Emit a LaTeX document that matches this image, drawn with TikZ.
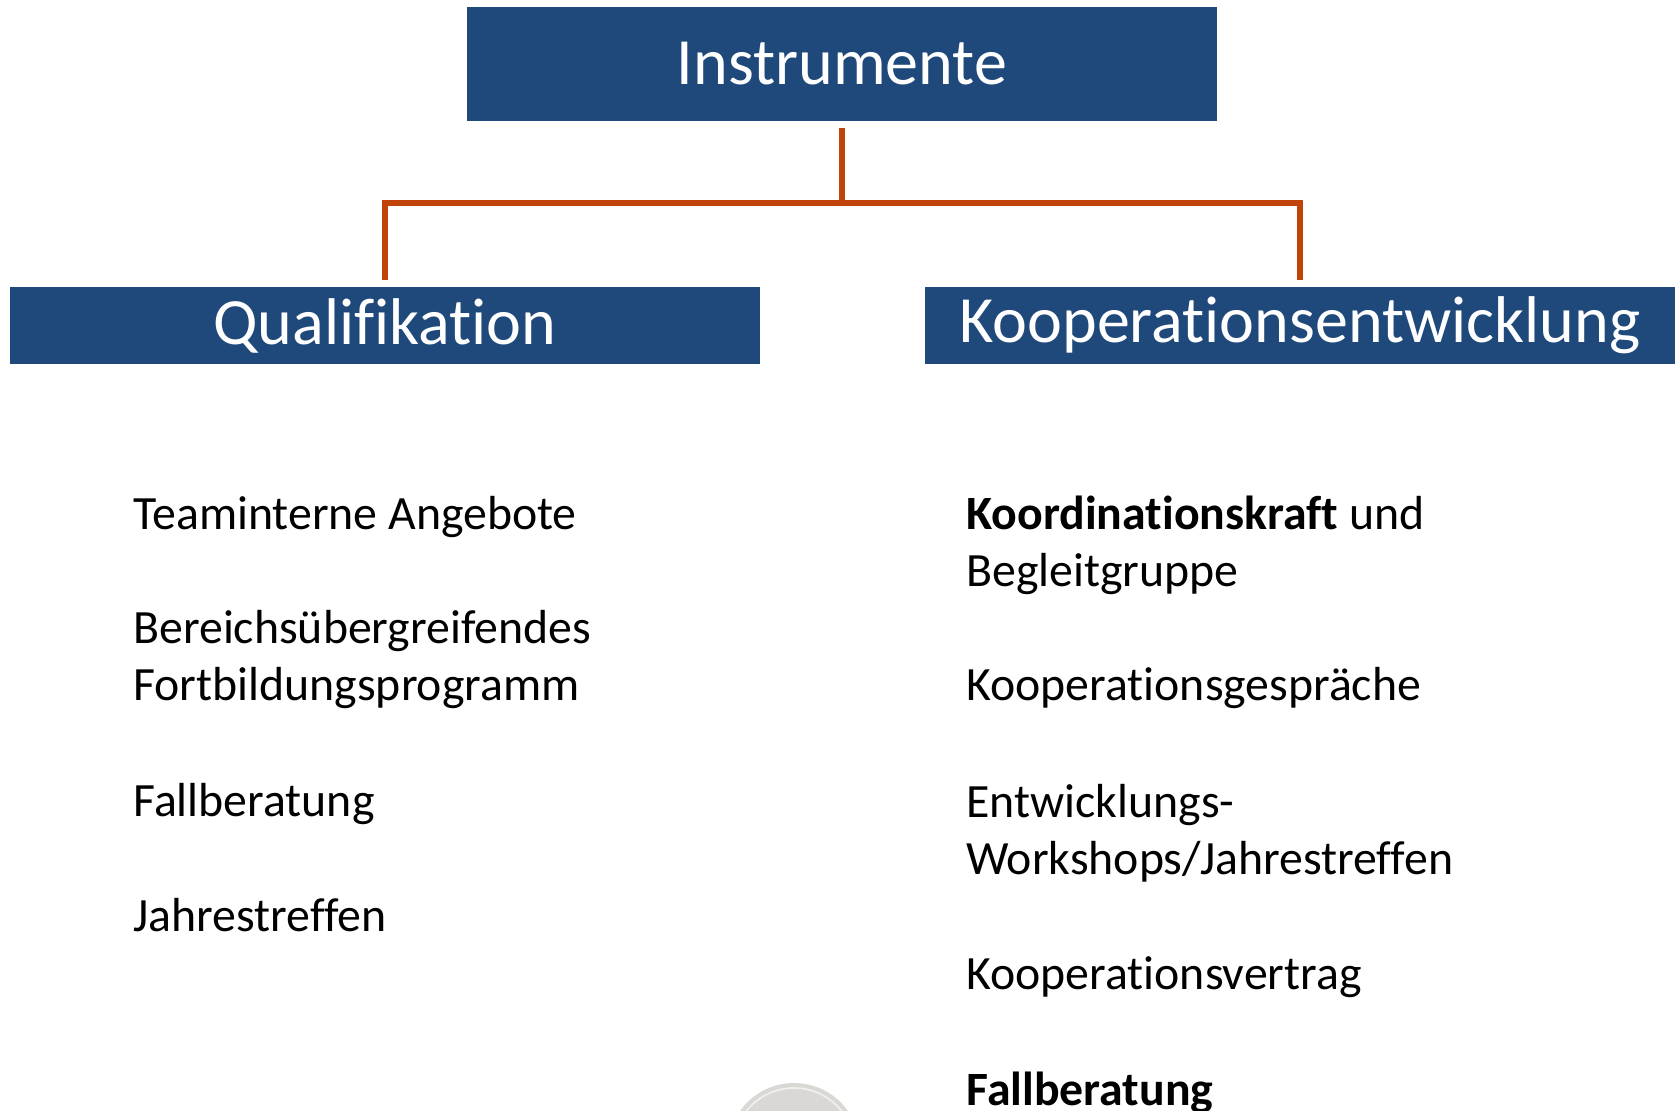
\documentclass[tikz,border=0pt]{standalone}
\usepackage{fontspec}
\setmainfont{Carlito}[RawFeature={-liga;-clig;-dlig}]
\usepackage{xcolor}
\definecolor{boxblue}{RGB}{32,73,123}
\definecolor{linkorange}{RGB}{192,68,10}
\definecolor{logogray}{RGB}{217,216,212}
\usetikzlibrary{positioning}

\tikzset{
  headbox/.style={fill=boxblue,text=white,inner sep=0pt,
    font=\fontsize{37.6}{45}\selectfont},
  branch/.style={draw=linkorange,line width=3pt},
  item/.style={anchor=base west,inner sep=0pt,align=left,
    font=\fontsize{27.2}{32.4}\selectfont}
}

\begin{document}
\begin{tikzpicture}[x=0.02cm,y=-0.02cm]
\path[use as bounding box] (0,0) rectangle (1677,1110);

% header boxes
\node[headbox,minimum width=750*0.02cm,minimum height=114*0.02cm] (root) at (842,64) {Instrumente};
\node[headbox,minimum width=750*0.02cm,minimum height=77*0.02cm] (qual) at (385,325.5) {Qualifikation};
\node[headbox,minimum width=750*0.02cm,minimum height=77*0.02cm] (koop) at (1300,325.5) {Kooperationsentwicklung};

% connectors
\coordinate (fork) at (842,203);
\draw[branch,shorten <=0.14cm] (root) -- (fork);
\draw[branch,shorten >=0.14cm] (fork) -| (qual);
\draw[branch,shorten >=0.14cm] (fork) -| (koop);

% left column (two-line items sit on their last line)
\node[item] (q1) at (133,529) {Teaminterne Angebote};
\node[item] (q2) at (133,700) {Bereichsübergreifendes\\Fortbildungsprogramm};
\node[item] (q3) at (133,816) {Fallberatung};
\node[item] (q4) at (133,931) {Jahrestreffen};

% right column
\node[item] (k1) at (966,586) {\textbf{Koordinationskraft} und\\Begleitgruppe};
\node[item] (k2) at (966,700) {Kooperationsgespräche};
\node[item] (k3) at (966,874) {Entwicklungs-\\Workshops/Jahrestreffen};
\node[item] (k4) at (966,989) {Kooperationsvertrag};
\node[item] (k5) at (966,1105) {\textbf{Fallberatung}};

% logo at the bottom edge
\fill[logogray] (794,1149) circle[radius=66*0.02cm];
\draw[white!60!logogray,line width=1pt] (794,1149) circle[radius=61*0.02cm];
\end{tikzpicture}
\end{document}
